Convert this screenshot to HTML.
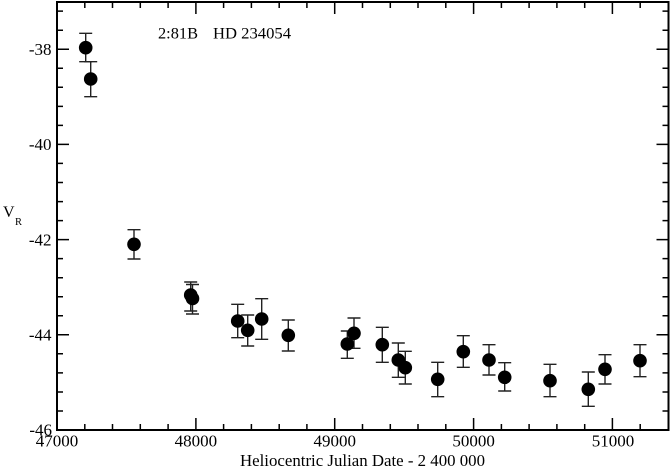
<!DOCTYPE html>
<html><head><meta charset="utf-8"><style>
html,body{margin:0;padding:0;background:#fff;}
svg{display:block;}
text{font-family:"Liberation Serif","DejaVu Serif",serif;fill:#000;}
</style></head><body>
<svg width="671" height="468" viewBox="0 0 671 468" xmlns="http://www.w3.org/2000/svg">
<rect width="671" height="468" fill="#fff"/>
<g stroke="#000" stroke-width="1.5" fill="none">
<path d="M57,430v-12M195.9,430v-12M334.7,430v-12M473.6,430v-12M612.4,430v-12
M57,2v12M195.9,2v12M334.7,2v12M473.6,2v12M612.4,2v12"/>
<path d="M84.8,430v-6M112.5,430v-6M140.3,430v-6M168.1,430v-6
M223.6,430v-6M251.4,430v-6M279.2,430v-6M306.9,430v-6
M362.5,430v-6M390.3,430v-6M418,430v-6M445.8,430v-6
M501.4,430v-6M529.1,430v-6M556.9,430v-6M584.7,430v-6
M640.2,430v-6
M84.8,2v6M112.5,2v6M140.3,2v6M168.1,2v6
M223.6,2v6M251.4,2v6M279.2,2v6M306.9,2v6
M362.5,2v6M390.3,2v6M418,2v6M445.8,2v6
M501.4,2v6M529.1,2v6M556.9,2v6M584.7,2v6
M640.2,2v6"/>
<path d="M57,49.2h12M57,144.4h12M57,239.6h12M57,334.8h12
M668.5,49.2h-12M668.5,144.4h-12M668.5,239.6h-12M668.5,334.8h-12"/>
<path d="M57,11.1h6M57,30.2h6M57,68.2h6M57,87.3h6M57,106.4h6M57,125.4h6
M57,163.4h6M57,182.5h6M57,201.6h6M57,220.6h6
M57,258.6h6M57,277.7h6M57,296.8h6M57,315.8h6
M57,353.8h6M57,372.9h6M57,392h6M57,411h6
M668.5,11.1h-6M668.5,30.2h-6M668.5,68.2h-6M668.5,87.3h-6M668.5,106.4h-6M668.5,125.4h-6
M668.5,163.4h-6M668.5,182.5h-6M668.5,201.6h-6M668.5,220.6h-6
M668.5,258.6h-6M668.5,277.7h-6M668.5,296.8h-6M668.5,315.8h-6
M668.5,353.8h-6M668.5,372.9h-6M668.5,392h-6M668.5,411h-6"/>
</g>
<rect x="57" y="2" width="611.5" height="428" fill="none" stroke="#000" stroke-width="2"/>

<g stroke="#222" stroke-width="1.4" fill="none">
<path d="M85.7,33.3V61.7M79.2,33.3h13M79.2,61.7h13"/>
<path d="M90.7,61.7V96.7M84.2,61.7h13M84.2,96.7h13"/>
<path d="M134,229.7V259M127.5,229.7h13M127.5,259h13"/>
<path d="M190.7,282V311M184.2,282h13M184.2,311h13"/>
<path d="M192.5,284.5V314M186,284.5h13M186,314h13"/>
<path d="M237.7,304.3V337.7M231.2,304.3h13M231.2,337.7h13"/>
<path d="M247.7,315V346M241.2,315h13M241.2,346h13"/>
<path d="M261.7,298.7V339.3M255.2,298.7h13M255.2,339.3h13"/>
<path d="M288.3,320V351M281.8,320h13M281.8,351h13"/>
<path d="M347.3,331V358.3M340.8,331h13M340.8,358.3h13"/>
<path d="M354,318V348.3M347.5,318h13M347.5,348.3h13"/>
<path d="M382.3,327.3V362.3M375.8,327.3h13M375.8,362.3h13"/>
<path d="M398.3,343V377.3M391.8,343h13M391.8,377.3h13"/>
<path d="M405.3,351.3V384M398.8,351.3h13M398.8,384h13"/>
<path d="M437.7,362.3V396.7M431.2,362.3h13M431.2,396.7h13"/>
<path d="M463.3,335.7V367.3M456.8,335.7h13M456.8,367.3h13"/>
<path d="M489,344.7V375M482.5,344.7h13M482.5,375h13"/>
<path d="M504.7,362.7V391M498.2,362.7h13M498.2,391h13"/>
<path d="M550,364.3V396.7M543.5,364.3h13M543.5,396.7h13"/>
<path d="M588.3,372V406.3M581.8,372h13M581.8,406.3h13"/>
<path d="M605,354.7V384M598.5,354.7h13M598.5,384h13"/>
<path d="M640,344.7V376.7M633.5,344.7h13M633.5,376.7h13"/>
</g>
<g fill="#000">
<circle cx="85.7" cy="47.7" r="6.8"/>
<circle cx="90.7" cy="79" r="6.8"/>
<circle cx="134" cy="244.3" r="6.8"/>
<circle cx="190.7" cy="295" r="6.8"/>
<circle cx="192.5" cy="298.5" r="6.8"/>
<circle cx="237.7" cy="321" r="6.8"/>
<circle cx="247.7" cy="330.3" r="6.8"/>
<circle cx="261.7" cy="319" r="6.8"/>
<circle cx="288.3" cy="335.3" r="6.8"/>
<circle cx="347.3" cy="344" r="6.8"/>
<circle cx="354" cy="333.3" r="6.8"/>
<circle cx="382.3" cy="344.7" r="6.8"/>
<circle cx="398.3" cy="360" r="6.8"/>
<circle cx="405.3" cy="367.7" r="6.8"/>
<circle cx="437.7" cy="379.3" r="6.8"/>
<circle cx="463.3" cy="351.7" r="6.8"/>
<circle cx="489" cy="360" r="6.8"/>
<circle cx="504.7" cy="377.3" r="6.8"/>
<circle cx="550" cy="380.7" r="6.8"/>
<circle cx="588.3" cy="389.3" r="6.8"/>
<circle cx="605" cy="369.3" r="6.8"/>
<circle cx="640" cy="360.7" r="6.8"/>
</g>

<g font-size="17" text-anchor="end">
<text x="51.5" y="55">-38</text>
<text x="51.5" y="150">-40</text>
<text x="51.5" y="245.5">-42</text>
<text x="51.5" y="340.5">-44</text>
<text x="52" y="435.5">-46</text>
</g>
<g font-size="17" text-anchor="middle">
<text x="57" y="446.5">47000</text>
<text x="195.9" y="446.5">48000</text>
<text x="334.7" y="446.5">49000</text>
<text x="473.6" y="446.5">50000</text>
<text x="613" y="446.5">51000</text>
</g>
<text x="240" y="466" font-size="17" textLength="245" lengthAdjust="spacingAndGlyphs">Heliocentric Julian Date - 2 400 000</text>
<text x="3" y="217" font-size="16">V</text>
<text x="15" y="225" font-size="10.5">R</text>
<text x="158" y="38.5" font-size="16" textLength="40" lengthAdjust="spacingAndGlyphs">2:81B</text>
<text x="213" y="38.5" font-size="16" textLength="78" lengthAdjust="spacingAndGlyphs">HD 234054</text>
</svg>
</body></html>
